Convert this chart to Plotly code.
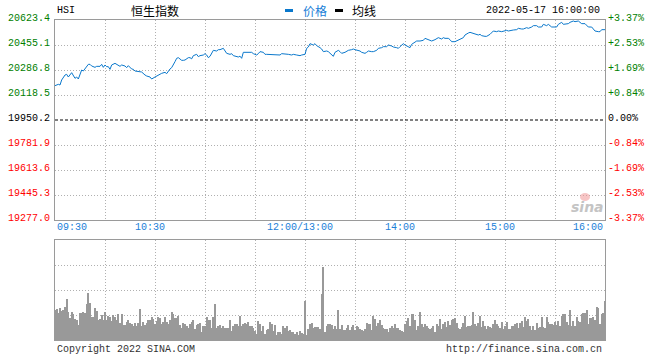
import plotly.graph_objects as go

prev_close = 19950.2
y_ticks = [20623.4, 20455.1, 20286.8, 20118.5, 19950.2, 19781.9, 19613.6, 19445.3, 19277.0]
pct_labels = ["+3.37%", "+2.53%", "+1.69%", "+0.84%", "0.00%", "-0.84%", "-1.69%", "-2.53%", "-3.37%"]
time_labels = ["09:30", "10:30", "12:00/13:00", "14:00", "15:00", "16:00"]
time_label_at = ["09:30", "10:30", "13:00", "14:00", "15:00", "16:00"]
grid_times = ["10:00", "10:30", "11:00", "11:30", "13:00", "13:30", "14:00", "14:30", "15:00", "15:30"]

price_times = [
    "09:30", "09:32", "09:33", "09:34", "09:36", "09:37", "09:38", "09:39", "09:40", "09:42",
    "09:43", "09:44", "09:46", "09:47", "09:48", "09:50", "09:51", "09:52", "09:54", "09:55",
    "09:57", "09:58", "09:59", "10:00", "10:01", "10:02", "10:03", "10:04", "10:06", "10:08",
    "10:09", "10:10", "10:12", "10:13", "10:14", "10:16", "10:17", "10:18", "10:20", "10:21",
    "10:22", "10:24", "10:25", "10:27", "10:28", "10:30", "10:31", "10:33", "10:34", "10:36",
    "10:37", "10:39", "10:40", "10:42", "10:43", "10:44", "10:46", "10:47", "10:48", "10:50",
    "10:51", "10:52", "10:53", "10:55", "10:56", "10:57", "10:59", "11:00", "11:01", "11:02",
    "11:03", "11:05", "11:07", "11:08", "11:09", "11:11", "11:12", "11:13", "11:15", "11:16",
    "11:17", "11:19", "11:20", "11:21", "11:22", "11:23", "11:25", "11:26", "11:28", "11:29",
    "11:31", "11:32", "11:33", "11:35", "11:36", "11:37", "11:39", "11:41", "11:43", "11:45",
    "11:46", "11:48", "11:50", "11:52", "11:53", "11:55", "11:57", "11:58", "11:59", "13:00",
    "13:01", "13:02", "13:03", "13:05", "13:06", "13:07", "13:09", "13:10", "13:11", "13:13",
    "13:14", "13:15", "13:16", "13:17", "13:18", "13:20", "13:21", "13:22", "13:24", "13:25",
    "13:26", "13:28", "13:29", "13:30", "13:32", "13:33", "13:34", "13:36", "13:37", "13:38",
    "13:40", "13:41", "13:43", "13:44", "13:46", "13:47", "13:49", "13:50", "13:52", "13:53",
    "13:55", "13:56", "13:57", "13:59", "14:00", "14:02", "14:03", "14:04", "14:06", "14:07",
    "14:09", "14:11", "14:12", "14:14", "14:15", "14:16", "14:18", "14:19", "14:20", "14:22",
    "14:23", "14:24", "14:26", "14:27", "14:28", "14:30", "14:31", "14:32", "14:34", "14:35",
    "14:36", "14:37", "14:38", "14:39", "14:41", "14:42", "14:44", "14:45", "14:46", "14:48",
    "14:49", "14:51", "14:52", "14:53", "14:55", "14:56", "14:58", "14:59", "15:01", "15:02",
    "15:04", "15:05", "15:07", "15:08", "15:10", "15:11", "15:13", "15:14", "15:16", "15:17",
    "15:19", "15:20", "15:22", "15:23", "15:25", "15:26", "15:28", "15:29", "15:31", "15:32",
    "15:34", "15:35", "15:36", "15:38", "15:39", "15:41", "15:42", "15:44", "15:45", "15:46",
    "15:48", "15:49", "15:50", "15:52", "15:53", "15:54", "15:56", "15:57", "15:58", "16:00",
]
price_values = [
    20181.3, 20190.3, 20185.8, 20219.5, 20253.1, 20257.6, 20239.7, 20253.1, 20268.8, 20230.7,
    20239.7, 20226.2, 20286.8, 20280.1, 20293.5, 20325.0, 20325.0, 20313.7, 20304.8, 20311.5,
    20311.5, 20325.0, 20304.8, 20320.5, 20309.3, 20309.3, 20291.3, 20320.5, 20331.7, 20320.5,
    20311.5, 20320.5, 20313.7, 20302.6, 20316.0, 20293.5, 20291.3, 20280.1, 20275.6, 20271.1,
    20273.3, 20253.1, 20246.4, 20239.7, 20226.2, 20239.7, 20246.4, 20257.6, 20264.4, 20271.1,
    20262.2, 20293.5, 20302.6, 20342.9, 20365.4, 20369.8, 20351.9, 20351.9, 20354.1, 20369.8,
    20369.8, 20362.0, 20383.4, 20392.3, 20376.7, 20383.4, 20387.8, 20396.7, 20387.8, 20369.8,
    20378.9, 20419.2, 20414.7, 20423.7, 20423.7, 20432.7, 20419.2, 20399.0, 20392.3, 20396.7,
    20383.4, 20374.3, 20374.3, 20380.0, 20365.4, 20405.8, 20405.8, 20410.3, 20405.8, 20396.7,
    20387.8, 20396.7, 20410.3, 20405.8, 20392.3, 20392.3, 20392.3, 20387.8, 20392.3, 20387.8,
    20396.7, 20396.7, 20392.3, 20387.8, 20392.3, 20387.8, 20383.4, 20387.8, 20392.3, 20392.3,
    20432.7, 20441.6, 20464.1, 20455.1, 20464.1, 20450.7, 20437.2, 20428.2, 20410.3, 20414.7,
    20410.3, 20399.0, 20387.8, 20378.9, 20405.8, 20419.2, 20410.3, 20399.0, 20405.8, 20414.7,
    20419.2, 20423.7, 20428.2, 20423.7, 20419.2, 20414.7, 20405.8, 20399.0, 20405.8, 20414.7,
    20410.3, 20410.3, 20419.2, 20432.7, 20437.2, 20443.9, 20443.9, 20455.1, 20448.4, 20441.6,
    20437.2, 20432.7, 20443.9, 20464.1, 20455.1, 20443.9, 20437.2, 20459.6, 20477.5, 20482.0,
    20482.0, 20486.5, 20500.0, 20491.0, 20482.0, 20482.0, 20491.0, 20495.5, 20504.5, 20495.5,
    20504.5, 20500.0, 20500.0, 20491.0, 20477.5, 20477.5, 20482.0, 20491.0, 20495.5, 20504.5,
    20522.4, 20531.4, 20535.9, 20540.4, 20531.4, 20531.4, 20522.4, 20526.9, 20518.0, 20513.5,
    20513.5, 20526.9, 20540.4, 20549.3, 20544.9, 20549.3, 20544.9, 20549.3, 20553.8, 20549.3,
    20556.1, 20556.1, 20558.3, 20567.3, 20562.8, 20562.8, 20571.8, 20567.3, 20576.3, 20585.2,
    20585.2, 20576.3, 20576.3, 20594.2, 20585.2, 20594.2, 20576.3, 20576.3, 20576.3, 20594.2,
    20607.7, 20594.2, 20594.2, 20598.8, 20607.7, 20616.7, 20612.2, 20616.7, 20607.7, 20598.8,
    20598.8, 20585.2, 20576.3, 20576.3, 20562.8, 20549.3, 20544.9, 20544.9, 20558.3, 20558.3,
]

# per-minute volume, 09:30 ... 12:00 | 13:01 ... 16:00 (arbitrary units, panel top = 100)
volume = [
    30, 31, 27, 32, 29, 30, 33, 41, 28, 22, 28, 26, 21, 20, 15, 27, 27, 28, 27, 36,
    47, 37, 23, 23, 32, 29, 20, 21, 25, 20, 28, 20, 24, 23, 19, 25, 23, 20, 26, 17,
    26, 15, 15, 18, 20, 17, 16, 14, 17, 14, 17, 31, 14, 18, 15, 17, 20, 20, 23, 21,
    16, 19, 23, 22, 16, 18, 23, 18, 16, 20, 28, 26, 22, 22, 24, 15, 12, 17, 16, 14,
    12, 16, 18, 20, 11, 15, 16, 17, 8, 14, 14, 23, 20, 20, 12, 23, 36, 12, 14, 15,
    12, 14, 12, 12, 12, 20, 9, 14, 16, 16, 14, 24, 14, 16, 17, 16, 18, 14, 14, 12,
    9, 6, 19, 16, 9, 14, 6, 10, 11, 18, 16, 9, 15, 5, 8, 8, 6, 14, 12, 14,
    9, 10, 8, 8, 6, 8, 5, 9, 7, 6, 39, 5, 11, 16, 17, 12, 13, 13, 13, 11,
    46, 73, 8, 14, 16, 16, 15, 11, 14, 11, 30, 11, 15, 10, 10, 12, 15, 10, 13, 15,
    10, 14, 13, 11, 10, 9, 11, 17, 16, 16, 10, 24, 21, 14, 17, 20, 15, 12, 11, 11,
    8, 12, 14, 12, 16, 12, 12, 10, 9, 8, 16, 19, 22, 14, 26, 26, 20, 10, 14, 28,
    16, 13, 16, 14, 12, 11, 12, 14, 8, 16, 14, 21, 11, 16, 18, 13, 19, 15, 20, 21,
    22, 17, 12, 11, 13, 17, 24, 13, 14, 14, 15, 28, 16, 14, 17, 24, 13, 19, 14, 11,
    14, 13, 12, 16, 20, 16, 14, 12, 18, 11, 14, 18, 11, 11, 14, 14, 16, 17, 12, 17,
    19, 13, 23, 19, 21, 14, 10, 14, 10, 17, 12, 13, 23, 13, 12, 23, 18, 16, 16, 15,
    18, 15, 19, 14, 24, 26, 26, 18, 15, 30, 14, 19, 14, 23, 19, 18, 26, 27, 27, 30,
    16, 22, 22, 23, 20, 33, 32, 16, 26, 27, 39,
]

BLUE = "#0a78cc"
TIME_BLUE = "#1a80d8"
GRID = "#b0b0b0"
FRAME = "#9a9a9a"
MONO = "Liberation Mono"
CJK = "Noto Sans CJK SC"


def to_minute(t):
    h, m = map(int, t.split(":"))
    total = h * 60 + m
    if h >= 13:
        return 150 + total - 13 * 60
    return total - (9 * 60 + 30)


px = [to_minute(t) for t in price_times]
vx = list(range(len(volume)))

fig = go.Figure()
fig.add_trace(go.Scatter(x=px, y=price_values, mode="lines",
                         line=dict(color=BLUE, width=1), xaxis="x", yaxis="y",
                         hoverinfo="skip"))
fig.add_trace(go.Bar(x=vx, y=volume, width=0.55,
                     marker=dict(color="#999999", line=dict(width=0)),
                     xaxis="x2", yaxis="y2", hoverinfo="skip"))

gridx = [to_minute(t) for t in grid_times]
axis_common = dict(showgrid=True, gridcolor=GRID, gridwidth=1, griddash="1px,2px",
                   showline=True, mirror=True, linecolor=FRAME, linewidth=1,
                   zeroline=False, showticklabels=False, ticks="", fixedrange=True)

fig.update_layout(
    width=660, height=360,
    margin=dict(l=55, r=55, t=20, b=20, autoexpand=False),
    paper_bgcolor="white", plot_bgcolor="white",
    showlegend=False, bargap=0,
    font=dict(family=MONO, size=10, color="black"),
    xaxis=dict(domain=[0, 1], anchor="y", range=[0, 330], tickvals=gridx, **axis_common),
    yaxis=dict(domain=[0.375, 1], anchor="x", range=[y_ticks[-1], y_ticks[0]],
               tickvals=[v for v in y_ticks[1:-1] if v != prev_close], **axis_common),
    xaxis2=dict(domain=[0, 1], anchor="y2", range=[0, 330], tickvals=gridx, **axis_common),
    yaxis2=dict(domain=[0, 0.3125], anchor="x2", range=[0, 100], tickvals=[25, 50, 75],
                **axis_common),
)

fig.add_shape(type="line", xref="x", yref="y", x0=0, x1=330, y0=prev_close, y1=prev_close,
              line=dict(color="black", width=1, dash="3px,2px"))

ann = []
for v, p in zip(y_ticks, pct_labels):
    if v > prev_close:
        c = "#008000"
    elif v < prev_close:
        c = "#ff0000"
    else:
        c = "black"
    ann.append(dict(x=0, xref="paper", y=v, yref="y", text=f"{v:.1f}", xanchor="right",
                    yanchor="middle", xshift=-3, yshift=2, showarrow=False,
                    font=dict(family=MONO, size=10, color=c)))
    ann.append(dict(x=1, xref="paper", y=v, yref="y", text=p, xanchor="left",
                    yanchor="middle", xshift=1, yshift=2, showarrow=False,
                    font=dict(family=MONO, size=10, color=c)))

for lab, at in zip(time_labels, time_label_at):
    m = to_minute(at)
    if m == 0:
        xa, xs = "left", 0
    elif m == 330:
        xa, xs = "right", 0
    else:
        xa, xs = "center", -5
    ann.append(dict(x=m, xref="x", y=0.353, yref="paper", text=lab, xanchor=xa, xshift=xs,
                    yanchor="middle", showarrow=False,
                    font=dict(family=MONO, size=10, color=TIME_BLUE)))


def pxx(p):
    return (p - 55) / 550.0


def pxy(p):
    return (340 - p) / 320.0


ann += [
    dict(x=0, xref="paper", y=pxy(10), yref="paper", text="HSI", xanchor="left",
         yanchor="middle", showarrow=False, font=dict(family=MONO, size=10, color="black")),
    dict(x=pxx(129), xref="paper", y=pxy(10), yref="paper", text="恒生指数", xanchor="left",
         yanchor="middle", showarrow=False, font=dict(family=CJK, size=12, color="black")),
    dict(x=pxx(301), xref="paper", y=pxy(10), yref="paper", text="价格", xanchor="left",
         yanchor="middle", showarrow=False, font=dict(family=CJK, size=12, color=TIME_BLUE)),
    dict(x=pxx(350), xref="paper", y=pxy(10), yref="paper", text="均线", xanchor="left",
         yanchor="middle", showarrow=False, font=dict(family=CJK, size=12, color="black")),
    dict(x=pxx(602), xref="paper", y=pxy(10), yref="paper", text="2022-05-17 16:00:00",
         xanchor="right", yanchor="middle", showarrow=False,
         font=dict(family=MONO, size=10, color="black")),
    dict(x=0, xref="paper", y=pxy(349), yref="paper", text="Copyright 2022 SINA.COM",
         xanchor="left", yanchor="middle", showarrow=False,
         font=dict(family=MONO, size=10, color="#333333")),
    dict(x=pxx(604), xref="paper", y=pxy(349), yref="paper", text="http://finance.sina.com.cn",
         xanchor="right", yanchor="middle", showarrow=False,
         font=dict(family=MONO, size=10, color="#333333")),
    dict(x=pxx(587), xref="paper", y=pxy(207), yref="paper", text="<b><i>sina</i></b>",
         xanchor="center", yanchor="middle", showarrow=False,
         font=dict(family="DejaVu Sans", size=14, color="#c4c4c4")),
]
fig.update_layout(annotations=ann)

# sina logo emblem (pink)
fig.add_shape(type="circle", xref="paper", yref="paper", x0=pxx(580), x1=pxx(590),
              y0=pxy(201), y1=pxy(193), fillcolor="rgba(240,150,150,0.55)", line=dict(width=0))

# legend swatches
fig.add_shape(type="rect", xref="paper", yref="paper", x0=pxx(285), x1=pxx(293),
              y0=pxy(12), y1=pxy(9), fillcolor=BLUE, line=dict(width=0))
fig.add_shape(type="rect", xref="paper", yref="paper", x0=pxx(335), x1=pxx(343),
              y0=pxy(12), y1=pxy(9), fillcolor="black", line=dict(width=0))

fig.write_html("out.html", config={"displayModeBar": False},
               post_script="document.body.style.margin='0';")
